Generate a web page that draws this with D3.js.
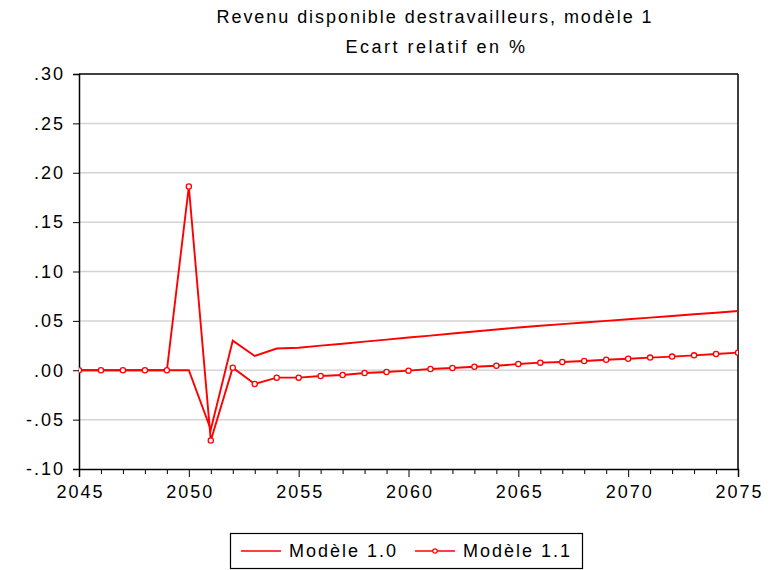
<!DOCTYPE html>
<html>
<head>
<meta charset="utf-8">
<script src="https://cdn.jsdelivr.net/npm/d3@7/dist/d3.min.js"></script>
<style>
  html, body { margin: 0; padding: 0; background: #fff; }
  svg { display: block; }
  text { font-family: "Liberation Sans", Arial, sans-serif; fill: #000; }
</style>
</head>
<body>
<svg id="chart" width="770" height="570"></svg>
<script>
const years = d3.range(2045, 2076);
const seriesNames = ["Modèle 1.0", "Modèle 1.1"];
const modele10 = [0, 0, 0, 0, 0, 0, -0.060, 0.030, 0.0145, 0.022, 0.0228,
  0.0249, 0.0269, 0.029, 0.031, 0.0331, 0.0351, 0.0372, 0.0392, 0.0413, 0.0433,
  0.045, 0.0467, 0.0483, 0.050, 0.0517, 0.0533, 0.055, 0.0567, 0.0583, 0.060];
const modele11 = [0, 0, 0, 0, 0, 0.186, -0.0712, 0.0026, -0.0139, -0.0075, -0.0075,
  -0.0058, -0.0048, -0.0028, -0.0018, -0.0004, 0.0012, 0.0023, 0.0036, 0.0045, 0.0063,
  0.0077, 0.0084, 0.0094, 0.0107, 0.0117, 0.0128, 0.0138, 0.0151, 0.0165, 0.0178];
const yTicks = [-0.10, -0.05, 0.00, 0.05, 0.10, 0.15, 0.20, 0.25, 0.30];
const xMajorTicks = [2045, 2050, 2055, 2060, 2065, 2070, 2075];
const titleLines = ["Revenu disponible destravailleurs, modèle 1", "Ecart relatif en %"];

const svg = d3.select("#chart");
const L = 79, R = 738, T = 74, B = 469;
const x = d3.scaleLinear().domain([2045, 2075]).range([L, R]);
const y = d3.scaleLinear().domain([-0.10, 0.30]).range([B, T]);
const red = "#ff0000";
const FS = "18px", LS = 2;

const fmtY = v => {
  const s = Math.abs(v).toFixed(2).replace(/^0/, "");
  return (v < -1e-9 ? "-" : "") + s;
};

// gridlines
svg.append("g").selectAll("line").data(yTicks.filter(v => v > -0.10 && v < 0.30)).join("line")
  .attr("x1", L).attr("x2", R).attr("y1", d => y(d)).attr("y2", d => y(d))
  .attr("stroke", "#d4d4d4").attr("stroke-width", 1.5);

// frame top/right
svg.append("line").attr("x1", L).attr("x2", R).attr("y1", T).attr("y2", T).attr("stroke", "#000").attr("stroke-width", 1.5);
svg.append("line").attr("x1", R).attr("x2", R).attr("y1", T).attr("y2", B).attr("stroke", "#000").attr("stroke-width", 1.5);

// y axis
const yAxis = svg.append("g").attr("transform", `translate(${L},0)`)
  .call(d3.axisLeft(y).tickValues(yTicks).tickFormat(fmtY).tickSize(6).tickPadding(8));
yAxis.select(".domain").attr("stroke", "#000").attr("stroke-width", 1.5);
yAxis.selectAll(".tick line").attr("stroke", "#000").attr("stroke-width", 1);
yAxis.selectAll(".tick text").style("font-size", FS).style("letter-spacing", LS + "px")
  .attr("font-family", "Liberation Sans, Arial, sans-serif");

// x axis minor
const xMinor = svg.append("g").attr("transform", `translate(0,${B})`)
  .call(d3.axisBottom(x).tickValues(years.filter(v => !xMajorTicks.includes(v))).tickFormat("").tickSize(5));
xMinor.select(".domain").remove();
xMinor.selectAll(".tick line").attr("stroke", "#000");
// x axis major
const xAxis = svg.append("g").attr("transform", `translate(0,${B})`)
  .call(d3.axisBottom(x).tickValues(xMajorTicks).tickFormat(d3.format("d")).tickSize(8).tickPadding(8));
xAxis.select(".domain").attr("stroke", "#000").attr("stroke-width", 1.5);
xAxis.selectAll(".tick line").attr("stroke", "#000");
xAxis.selectAll(".tick text").style("font-size", FS).style("letter-spacing", LS + "px")
  .attr("dx", LS / 2).attr("font-family", "Liberation Sans, Arial, sans-serif");

// lines
const line = d3.line().x((d, i) => x(years[i])).y(d => y(d));
svg.append("clipPath").attr("id", "clip").append("rect")
  .attr("x", L).attr("y", T - 5).attr("width", R - L).attr("height", B - T + 10);
const plot = svg.append("g").attr("clip-path", "url(#clip)");
plot.append("path").datum(modele10).attr("d", line).attr("fill", "none").attr("stroke", red).attr("stroke-width", 1.9);
plot.append("path").datum(modele11).attr("d", line).attr("fill", "none").attr("stroke", red).attr("stroke-width", 1.9);
plot.selectAll("circle").data(modele11).join("circle")
  .attr("cx", (d, i) => x(years[i])).attr("cy", d => y(d)).attr("r", 2.6)
  .attr("fill", "#fff").attr("stroke", red).attr("stroke-width", 1.3);

// title
const titleX = [435, 436.5];
const titleLS = [1.95, 2.5];
svg.append("g").selectAll("text").data(titleLines).join("text")
  .attr("x", (d, i) => titleX[i])
  .attr("y", (d, i) => 23 + i * 30)
  .attr("text-anchor", "middle").style("font-size", FS)
  .style("letter-spacing", (d, i) => titleLS[i] + "px").text(d => d);

// legend
const lg = svg.append("g");
lg.append("rect").attr("x", 230.5).attr("y", 533.5).attr("width", 352).attr("height", 35)
  .attr("fill", "#fff").attr("stroke", "#000").attr("stroke-width", 1.2);
const items = [{ x: 241, name: seriesNames[0], marker: false }, { x: 415, name: seriesNames[1], marker: true }];
items.forEach(it => {
  lg.append("line").attr("x1", it.x).attr("x2", it.x + 40).attr("y1", 551).attr("y2", 551).attr("stroke", red).attr("stroke-width", 1.5);
  if (it.marker) lg.append("circle").attr("cx", it.x + 20).attr("cy", 551).attr("r", 2.2).attr("fill", "#fff").attr("stroke", red).attr("stroke-width", 1.2);
  lg.append("text").attr("x", it.x + 48).attr("y", 557).style("font-size", FS).style("letter-spacing", LS + "px").text(it.name);
});
</script>
</body>
</html>
